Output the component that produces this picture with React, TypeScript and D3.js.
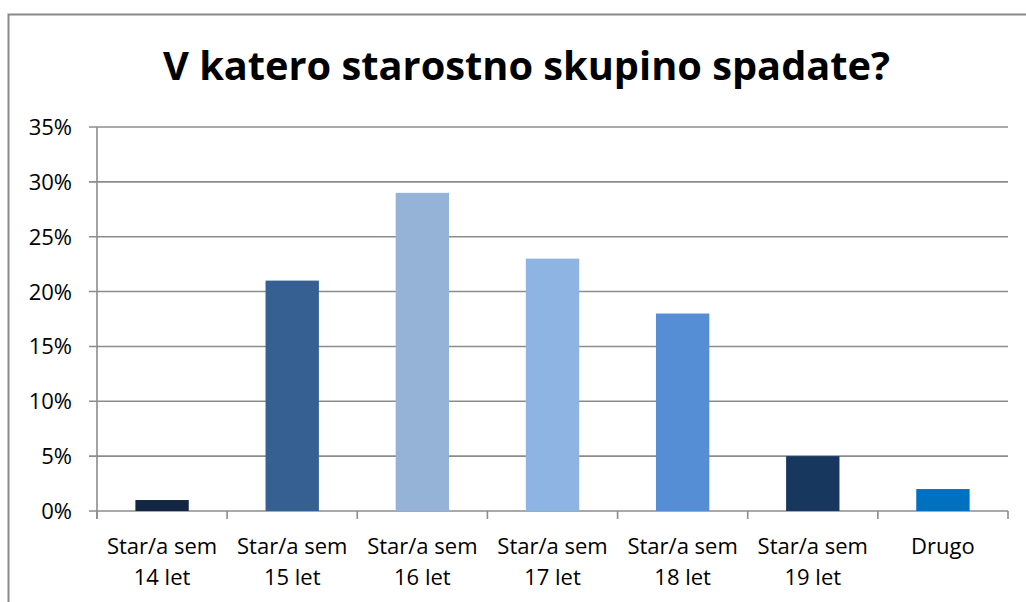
import React from "react";
import * as d3 from "d3";

const categories: string[][] = [
  ["Star/a sem", "14 let"],
  ["Star/a sem", "15 let"],
  ["Star/a sem", "16 let"],
  ["Star/a sem", "17 let"],
  ["Star/a sem", "18 let"],
  ["Star/a sem", "19 let"],
  ["Drugo"],
];
const values: number[] = [0.01, 0.21, 0.29, 0.23, 0.18, 0.05, 0.02];
const colors: string[] = ["#132745", "#376092", "#95B3D7", "#8EB4E3", "#558ED5", "#17375E", "#0070C0"];
const yTicks: number[] = [0, 0.05, 0.1, 0.15, 0.2, 0.25, 0.3, 0.35];
const title = "V katero starostno skupino spadate?";

const W = 1026;
const H = 602;
const left = 97;
const right = 1008;
const top = 127;
const bottom = 511;
const grid = "#8c8c8c";
const font = "'Open Sans', sans-serif";

export default function App() {
  const ids = categories.map((_, i) => String(i));
  const x = d3.scaleBand<string>().domain(ids).range([left, right]).paddingInner(0.59).paddingOuter(0.295);
  const y = d3.scaleLinear().domain([0, 0.35]).range([bottom, top]);
  const step = x.step();
  const fmt = d3.format(".0%");
  const boundaries = d3.range(categories.length + 1).map((i) => left + i * step);

  return (
    <svg width={W} height={H} style={{ position: "absolute", left: 0, top: 0, background: "#fff" }}>
      <rect x={8.5} y={14.5} width={W + 20} height={H + 20} fill="#fff" stroke="#8a8a8a" strokeWidth={2} />
      <text
        x={526.5}
        y={80}
        textAnchor="middle"
        fontFamily={font}
        fontWeight="bold"
        fontSize={40}
        textLength={727}
        lengthAdjust="spacingAndGlyphs"
        fill="#000"
      >
        {title}
      </text>
      {yTicks.map((t) => (
        <g key={t}>
          <line x1={left - 8} x2={right} y1={y(t)} y2={y(t)} stroke={grid} strokeWidth={1.6} />
          <text x={72} y={y(t) + 8} textAnchor="end" fontFamily={font} fontSize={22} fill="#000">
            {fmt(t)}
          </text>
        </g>
      ))}
      <line x1={left} x2={left} y1={top} y2={bottom + 8} stroke={grid} strokeWidth={1.6} />
      {boundaries.map((b, i) => (
        <line key={i} x1={b} x2={b} y1={bottom} y2={bottom + 8} stroke={grid} strokeWidth={1.6} />
      ))}
      {values.map((v, i) => (
        <rect
          key={i}
          x={x(String(i))}
          y={y(v)}
          width={x.bandwidth()}
          height={bottom - y(v)}
          fill={colors[i]}
        />
      ))}
      {categories.map((lines, i) => (
        <text
          key={i}
          x={(x(String(i)) as number) + x.bandwidth() / 2}
          y={554}
          textAnchor="middle"
          fontFamily={font}
          fontSize={22}
          fill="#000"
        >
          {lines.map((l, j) => (
            <tspan key={j} x={(x(String(i)) as number) + x.bandwidth() / 2} dy={j === 0 ? 0 : 31}>
              {l}
            </tspan>
          ))}
        </text>
      ))}
    </svg>
  );
}
